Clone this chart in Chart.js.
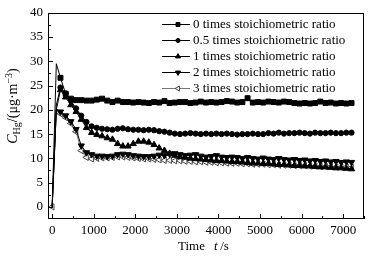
<!DOCTYPE html>
<html>
<head>
<meta charset="utf-8">
<script src="https://cdn.jsdelivr.net/npm/chart.js@4.4.1/dist/chart.umd.min.js"></script>
<style>
  body { margin: 0; background: #fff; }
  canvas { display: block; }
</style>
</head>
<body>
<canvas id="grafico" width="370" height="257"></canvas>
<script>
// tiempos de muestreo (s)
const tiempos = [0, 100, 200, 325, 450, 575, 700, 825, 950, 1075, 1200, 1325, 1450, 1575, 1700, 1825, 1950,
  2075, 2200, 2325, 2450, 2575, 2700, 2825, 2950, 3075, 3200, 3325, 3450, 3575, 3700, 3825, 3950,
  4075, 4200, 4325, 4450, 4575, 4700, 4825, 4950, 5075, 5200, 5325, 5450, 5575, 5700, 5825, 5950,
  6075, 6200, 6325, 6450, 6575, 6700, 6825, 6950, 7075, 7200];

const nombres = [
  "0 times stoichiometric ratio",
  "0.5 times stoichiometric ratio",
  "1 times stoichiometric ratio",
  "2 times stoichiometric ratio",
  "3 times stoichiometric ratio",
];

// concentración de Hg (µg/m3)
const serie0 = [0, 29.5, 26.6, 23.3, 22.3, 22.0, 22.0, 21.9, 21.9, 22.1, 22.3, 21.9, 21.6, 21.9, 21.6, 21.6, 21.5,
  21.6, 21.5, 21.4, 21.6, 21.5, 21.8, 21.4, 21.5, 21.6, 21.6, 21.4, 21.5, 21.7, 21.5, 21.6, 21.5,
  21.6, 21.8, 21.7, 21.5, 21.6, 22.4, 21.5, 21.6, 21.5, 21.7, 21.6, 21.5, 21.7, 21.6, 21.4, 21.3,
  21.4, 21.3, 21.4, 21.7, 21.4, 21.5, 21.3, 21.4, 21.3, 21.4];
const serie05 = [0, 21.0, 24.6, 23.4, 21.9, 20.3, 18.8, 17.5, 16.6, 16.3, 16.1, 16.0, 15.9, 16.1, 16.2, 16.0, 15.9,
  15.9, 15.8, 15.9, 15.8, 15.6, 15.5, 15.3, 15.1, 15.0, 15.1, 15.2, 15.1, 15.0, 15.1, 15.0, 15.1,
  15.0, 15.1, 15.0, 14.9, 15.0, 15.0, 15.1, 15.0, 15.0, 15.2, 15.1, 15.3, 15.1, 15.2, 15.2, 15.3,
  15.2, 15.1, 15.3, 15.2, 15.2, 15.3, 15.2, 15.2, 15.3, 15.3];
const serie1 = [0, 20.0, 24.1, 22.6, 21.0, 19.6, 18.0, 16.3, 15.3, 14.9, 14.6, 14.2, 13.9, 13.0, 12.5, 12.5, 13.0,
  13.5, 13.5, 13.3, 12.8, 12.1, 11.6, 11.0, 10.6, 10.3, 10.2, 10.0, 9.9, 9.8, 9.7, 9.6, 9.5,
  9.5, 9.4, 9.3, 9.3, 9.2, 9.1, 9.0, 9.0, 8.9, 8.9, 8.8, 8.7, 8.7, 8.6, 8.5, 8.5,
  8.4, 8.4, 8.3, 8.2, 8.2, 8.1, 8.0, 8.0, 7.9, 7.8];
const serie2 = [0, 20.2, 19.6, 18.8, 17.6, 16.0, 12.6, 11.2, 10.8, 10.5, 10.5, 10.4, 10.5, 10.8, 10.9, 10.8, 10.6,
  10.5, 10.4, 10.4, 10.5, 10.7, 10.6, 10.9, 11.0, 10.8, 10.6, 10.7, 10.8, 10.5, 10.3, 10.4, 10.6,
  10.3, 10.2, 10.3, 10.2, 10.0, 10.2, 10.0, 9.9, 10.1, 9.9, 9.8, 10.0, 9.8, 9.7, 9.8, 9.6,
  9.7, 9.5, 9.6, 9.4, 9.5, 9.3, 9.4, 9.2, 9.3, 9.2];
const serie3 = [0, 19.9, 19.2, 18.4, 17.2, 15.5, 11.6, 10.2, 9.9, 10.0, 10.1, 10.1, 10.2, 10.3, 10.3, 10.2, 10.1,
  10.0, 9.9, 9.9, 9.8, 9.7, 9.6, 9.6, 9.5, 9.5, 9.4, 9.4, 9.3, 9.3, 9.2, 9.2, 9.1,
  9.1, 9.0, 9.0, 9.0, 8.9, 8.9, 8.8, 8.8, 8.8, 8.7, 8.7, 8.6, 8.6, 8.6, 8.5, 8.5,
  8.5, 8.4, 8.4, 8.3, 8.3, 8.3, 8.2, 8.2, 8.2, 8.1];

const ticksX = [0, 1000, 2000, 3000, 4000, 5000, 6000, 7000];
const ticksY = [0, 5, 10, 15, 20, 25, 30, 35, 40];

const fuente = "'Liberation Serif', 'Times New Roman', serif";

const estilos = [
  { pointStyle: "rect", rotation: 0, radius: 3.5, fill: "#000", stroke: "#000", line: "#000" },
  { pointStyle: "circle", rotation: 0, radius: 2.6, fill: "#000", stroke: "#000", line: "#000" },
  { pointStyle: "triangle", rotation: 0, radius: 3.6, fill: "#000", stroke: "#000", line: "#000" },
  { pointStyle: "triangle", rotation: 180, radius: 3.6, fill: "#000", stroke: "#000", line: "#000" },
  { pointStyle: "triangle", rotation: 270, radius: 3.6, fill: "#fff", stroke: "#444", line: "#777" },
];

const series = [serie0, serie05, serie1, serie2, serie3];

const datasets = series.map((vals, i) => ({
  label: nombres[i],
  data: tiempos.map((t, k) => ({ x: t, y: vals[k] })),
  borderColor: estilos[i].line,
  borderWidth: 1,
  backgroundColor: estilos[i].fill,
  pointBackgroundColor: estilos[i].fill,
  pointBorderColor: estilos[i].stroke,
  pointBorderWidth: 1,
  pointStyle: estilos[i].pointStyle,
  rotation: estilos[i].rotation,
  pointRadius: (c) => (c.dataIndex === 1 || (c.dataIndex === 0 && i !== 4) ? 0 : estilos[i].radius),
  tension: 0,
  fill: false,
}));

// marcas, marco, títulos y leyenda
const extras = {
  id: "extras",
  afterDraw(chart) {
    const ctx = chart.ctx;
    const a = chart.chartArea;
    const sx = chart.scales.x;
    const sy = chart.scales.y;
    ctx.save();
    ctx.strokeStyle = "#000";
    ctx.lineWidth = 1;
    ctx.strokeRect(Math.round(a.left) + 0.5, Math.round(a.top) + 0.5,
      Math.round(a.right - a.left) - 1, Math.round(a.bottom - a.top) - 1);

    ctx.beginPath();
    for (let v = 0; v <= 7500; v += 500) {
      const px = Math.round(sx.getPixelForValue(v)) + 0.5;
      const len = v % 1000 === 0 ? 5 : 3;
      ctx.moveTo(px, a.bottom);
      ctx.lineTo(px, a.bottom - len);
    }
    for (let v = 0; v <= 40; v += 2.5) {
      const py = Math.round(sy.getPixelForValue(v)) + 0.5;
      const len = v % 5 === 0 ? 5 : 3;
      ctx.moveTo(a.left, py);
      ctx.lineTo(a.left + len, py);
    }
    ctx.stroke();

    // eje Y
    ctx.fillStyle = "#000";
    ctx.textBaseline = "alphabetic";
    ctx.translate(17, 106);
    ctx.rotate(-Math.PI / 2);
    const partes = [
      { t: "C", f: "italic 14px " + fuente, dy: 0 },
      { t: "Hg", f: "10px " + fuente, dy: 3 },
      { t: "/(\u03bcg\u00b7m", f: "14px " + fuente, dy: 0 },
      { t: "\u22123", f: "10px " + fuente, dy: -5 },
      { t: ")", f: "14px " + fuente, dy: 0 },
    ];
    let total = 0;
    partes.forEach((p) => { ctx.font = p.f; total += ctx.measureText(p.t).width; });
    let x = -total / 2;
    partes.forEach((p) => {
      ctx.font = p.f;
      ctx.fillText(p.t, x, p.dy);
      x += ctx.measureText(p.t).width;
    });
    ctx.restore();

    // eje X
    ctx.save();
    ctx.fillStyle = "#000";
    ctx.textBaseline = "alphabetic";
    ctx.font = "13px " + fuente;
    ctx.fillText("Time", 178, 250);
    ctx.font = "italic 13px " + fuente;
    ctx.fillText("t", 214, 250);
    ctx.font = "13px " + fuente;
    ctx.fillText(" /s", 217, 250);

    // leyenda
    ctx.textBaseline = "middle";
    ctx.font = "13px " + fuente;
    chart.data.datasets.forEach((d, i) => {
      const y = 24 + 16 * i;
      ctx.strokeStyle = estilos[i].line;
      ctx.lineWidth = 1;
      ctx.beginPath();
      ctx.moveTo(162, y + 0.5);
      ctx.lineTo(190, y + 0.5);
      ctx.stroke();
      ctx.fillStyle = estilos[i].fill;
      ctx.strokeStyle = estilos[i].stroke;
      Chart.helpers.drawPoint(ctx, {
        pointStyle: estilos[i].pointStyle,
        rotation: estilos[i].rotation,
        radius: estilos[i].radius * 0.8,
        borderWidth: 1,
      }, 178, y + 0.5);
      ctx.fillStyle = "#000";
      ctx.fillText(d.label, 193, y + 1);
    });
    ctx.restore();
  },
};

new Chart(document.getElementById("grafico").getContext("2d"), {
  type: "line",
  data: { datasets },
  options: {
    responsive: false,
    animation: false,
    layout: { padding: { left: 0, top: 12, right: 6, bottom: 0 } },
    plugins: { legend: { display: false }, tooltip: { enabled: false } },
    scales: {
      x: {
        type: "linear",
        min: -100,
        max: 7500,
        grid: { display: false, drawTicks: false },
        border: { display: false },
        afterBuildTicks: (s) => { s.ticks = ticksX.map((v) => ({ value: v })); },
        afterFit: (s) => { s.height = 38; },
        ticks: {
          color: "#000", font: { family: fuente, size: 13 }, padding: 4, maxRotation: 0, autoSkip: false,
          callback: (v) => String(v),
        },
      },
      y: {
        min: -2.5,
        max: 40,
        grid: { display: false, drawTicks: false },
        border: { display: false },
        afterBuildTicks: (s) => { s.ticks = ticksY.map((v) => ({ value: v })); },
        afterFit: (s) => { s.width = 48; },
        ticks: { color: "#000", font: { family: fuente, size: 13 }, padding: 5, callback: (v) => String(v) },
      },
    },
  },
  plugins: [extras],
});
</script>
</body>
</html>
